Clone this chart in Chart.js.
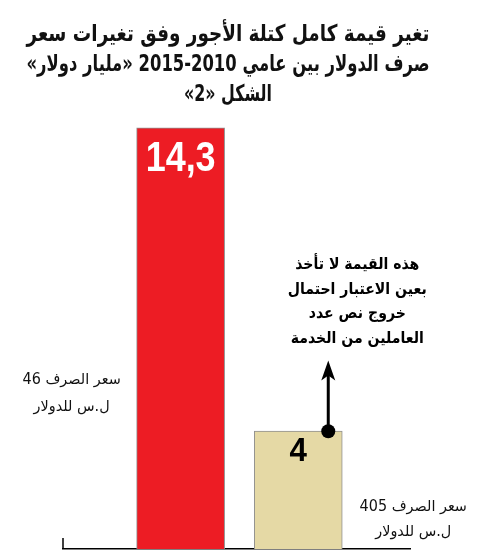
<!DOCTYPE html>
<html lang="ar">
<head>
<meta charset="utf-8">
<title>تغير قيمة كامل كتلة الأجور</title>
<script src="https://cdn.jsdelivr.net/npm/chart.js@4"></script>
<style>
  html, body { margin: 0; padding: 0; background: #fff; }
  #wrap { width: 497px; height: 559px; }
</style>
</head>
<body>
<div id="wrap"><canvas id="wagesChart" width="497" height="559"></canvas></div>
<script>
// data
const years = ['2010', '2015'];
const positions = [1, 2];
const wageMass = [14.3, 4];          // مليار دولار
const valueLabels = ['14,3', '4'];
const rateLabels = [
  ['سعر الصرف 46', 'ل.س للدولار'],
  ['سعر الصرف 405', 'ل.س للدولار']
];
const barColors = ['#ED1C24', '#E5D9A5'];
const titleLines = [
  'تغير قيمة كامل كتلة الأجور وفق تغيرات سعر',
  'صرف الدولار بين عامي 2010-2015 «مليار دولار»',
  'الشكل «2»'
];
const titleWidths = [403, 403, 88];
const noteLines = [
  'هذه القيمة لا تأخذ',
  'بعين الاعتبار احتمال',
  'خروج نص عدد',
  'العاملين من الخدمة'
];
const arrowTop = 6.4; // value the arrow reaches above the 2015 bar

// draw text squeezed horizontally by sx around x
function squeezed(ctx, text, x, y, sx) {
  ctx.save();
  ctx.translate(x, y);
  ctx.scale(sx, 1);
  ctx.fillText(text, 0, 0);
  ctx.restore();
}

const extras = {
  id: 'extras',
  afterDraw(chart) {
    const ctx = chart.ctx;
    const area = chart.chartArea;
    const bars = chart.getDatasetMeta(0).data;
    const y = chart.scales.y;
    ctx.save();
    ctx.direction = 'rtl';
    ctx.textAlign = 'center';
    ctx.textBaseline = 'middle';

    // title, each line squeezed to its width in the picture
    ctx.fillStyle = '#111';
    ctx.font = 'bold 23px "DejaVu Sans"';
    titleLines.forEach((t, i) => {
      const sx = titleWidths[i] / ctx.measureText(t).width;
      squeezed(ctx, t, 228, 35 + i * 30, sx);
    });

    // small stub at the left end of the axis
    ctx.strokeStyle = '#000';
    ctx.lineWidth = 1.5;
    ctx.beginPath();
    ctx.moveTo(area.left, area.bottom);
    ctx.lineTo(area.left, area.bottom - 11);
    ctx.stroke();

    // values inside the bars
    ctx.direction = 'ltr';
    ctx.fillStyle = '#fff';
    ctx.font = 'bold 42px "Liberation Sans"';
    squeezed(ctx, valueLabels[0], bars[0].x, bars[0].y + 32, 70 / ctx.measureText(valueLabels[0]).width);
    ctx.fillStyle = '#000';
    ctx.font = 'bold 33px "Liberation Sans"';
    squeezed(ctx, valueLabels[1], bars[1].x, bars[1].y + 21, 0.95);

    // exchange rate labels
    ctx.direction = 'rtl';
    ctx.font = '15px "DejaVu Sans"';
    ctx.fillStyle = '#111';
    rateLabels[0].forEach((t, i) => squeezed(ctx, t, bars[0].x - 109, 380 + i * 27, 0.96));
    rateLabels[1].forEach((t, i) => squeezed(ctx, t, bars[1].x + 115, 507 + i * 25, 0.96));

    // arrow from the 2015 bar
    const ax = bars[1].x + 30;
    const ay = bars[1].y;
    const tip = y.getPixelForValue(arrowTop);
    ctx.fillStyle = '#000';
    ctx.lineWidth = 3;
    ctx.beginPath();
    ctx.moveTo(ax, ay);
    ctx.lineTo(ax, tip + 8);
    ctx.stroke();
    ctx.beginPath();
    ctx.moveTo(ax, tip);
    ctx.lineTo(ax + 7, tip + 20);
    ctx.lineTo(ax, tip + 15);
    ctx.lineTo(ax - 7, tip + 20);
    ctx.closePath();
    ctx.fill();
    ctx.beginPath();
    ctx.arc(ax, ay, 7, 0, Math.PI * 2);
    ctx.fill();

    // note above the arrow
    ctx.font = 'bold 16px "DejaVu Sans"';
    noteLines.forEach((t, i) => squeezed(ctx, t, bars[1].x + 59, 265 + i * 24.5, 0.88));
    ctx.restore();
  }
};

new Chart(document.getElementById('wagesChart'), {
  type: 'bar',
  data: {
    labels: years,
    datasets: [{
      label: 'كتلة الأجور',
      data: positions.map((p, i) => ({ x: p, y: wageMass[i] })),
      backgroundColor: barColors,
      borderColor: '#8f8f8f',
      borderWidth: 1,
      barThickness: 88
    }]
  },
  options: {
    responsive: false,
    animation: false,
    layout: { padding: { top: 63, left: 63, right: 87, bottom: 10 } },
    plugins: { legend: { display: false }, tooltip: { enabled: false } },
    scales: {
      x: {
        type: 'linear',
        offset: false,
        min: 0,
        max: 2.95,
        grid: { display: false, drawTicks: false },
        ticks: { display: false },
        border: { display: true, color: '#000', width: 1.5 }
      },
      y: {
        display: false,
        min: 0,
        max: 16.5
      }
    }
  },
  plugins: [extras]
});
</script>
</body>
</html>
